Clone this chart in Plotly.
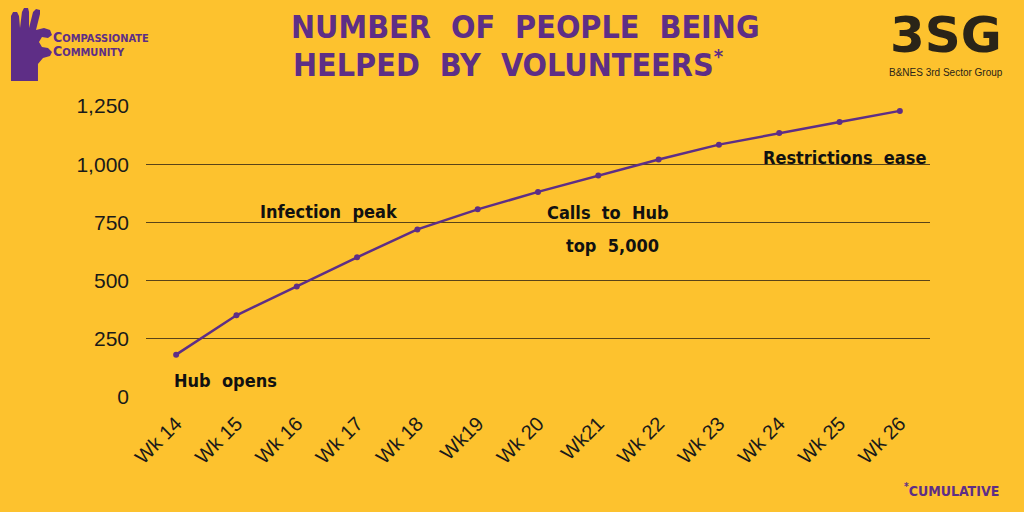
import plotly.graph_objects as go

weeks = ["Wk 14", "Wk 15", "Wk 16", "Wk 17", "Wk 18", "Wk19", "Wk 20",
         "Wk21", "Wk 22", "Wk 23", "Wk 24", "Wk 25", "Wk 26"]
people = [182, 351, 475, 600, 720, 806, 881, 951, 1020, 1084, 1134, 1181, 1229]
y_ticks = [0, 250, 500, 750, 1000, 1250]
y_tick_labels = ["0", "250", "500", "750", "1,000", "1,250"]

notes = [
    ("Hub opens", 0.81, 70),
    ("Infection peak", 2.54, 797),
    ("Calls to Hub", 7.16, 793),
    ("top 5,000", 7.24, 652),
    ("Restrictions ease", 11.09, 1030),
]

BG = "#FDC22E"
PURPLE = "#5E2E86"
W, H = 1024, 512
L, R, T, B = 146, 94, 106, 115
PW, PH = W - L - R, H - T - B


def px(x):
    return (x - L) / PW


def py(y):
    return (H - B - y) / PH


fig = go.Figure()
fig.add_trace(go.Scatter(
    x=weeks, y=people, mode="lines+markers",
    line=dict(color=PURPLE, width=2.5),
    marker=dict(color=PURPLE, size=6),
    hoverinfo="x+y", showlegend=False,
))

NOTE_FONT = "DejaVu Sans Condensed, sans-serif"
for text, xi, yv in notes:
    fig.add_annotation(
        x=xi, y=yv, xref="x", yref="y",
        text="<b>" + text.replace(" ", "&nbsp;&nbsp;") + "</b>",
        showarrow=False, font=dict(family=NOTE_FONT, size=18, color="#111111"),
    )

# Title (two lines, left aligned)
TITLE_FONT = "DejaVu Sans Condensed, sans-serif"
fig.add_annotation(
    x=px(289), y=py(27), xref="paper", yref="paper", xanchor="left", yanchor="middle",
    text="<b>NUMBER&nbsp;&nbsp;OF&nbsp;&nbsp;PEOPLE&nbsp;&nbsp;BEING</b>",
    showarrow=False, font=dict(family=TITLE_FONT, size=32, color=PURPLE),
)
fig.add_annotation(
    x=px(291), y=py(64), xref="paper", yref="paper", xanchor="left", yanchor="middle",
    text="<b>HELPED&nbsp;&nbsp;BY&nbsp;&nbsp;VOLUNTEERS<sup><span style='font-size:20px'>*</span></sup></b>",
    showarrow=False, font=dict(family=TITLE_FONT, size=32, color=PURPLE),
)

# Left logo text
fig.add_annotation(
    x=px(51), y=py(44), xref="paper", yref="paper", xanchor="left", yanchor="middle",
    text="<b><span style='font-size:14px'>C</span>OMPASSIONATE<br>"
         "<span style='font-size:14px'>C</span>OMMUNITY</b>",
    showarrow=False, align="left",
    font=dict(family=NOTE_FONT, size=11, color=PURPLE),
)

# Hand shape (logo decoration), pixel outline converted to paper coords
hand = [(11, 81), (11, 16), (13, 12), (17, 12), (19, 16), (20, 28), (22, 12), (24, 8),
        (28, 8), (29, 12), (29, 28), (33, 12), (36, 9), (40, 10), (40, 14), (36, 30),
        (44, 28), (50, 30), (52, 35), (48, 38), (42, 37), (39, 42), (42, 47), (48, 48),
        (52, 52), (50, 56), (43, 58), (38, 64), (38, 81)]
path = "M " + " L ".join(f"{px(a):.4f},{py(b):.4f}" for a, b in hand) + " Z"
fig.add_shape(type="path", xref="paper", yref="paper", path=path,
              fillcolor=PURPLE, line=dict(width=0))

# Right logo
fig.add_annotation(
    x=px(946), y=py(35), xref="paper", yref="paper", xanchor="center", yanchor="middle",
    text="<b>3SG</b>", showarrow=False,
    font=dict(family="DejaVu Sans", size=50, color="#2a2418"),
)
fig.add_annotation(
    x=px(946), y=py(73), xref="paper", yref="paper", xanchor="center", yanchor="middle",
    text="B&amp;NES 3rd Sector Group", showarrow=False,
    font=dict(family="Liberation Sans", size=10, color="#2a2418"),
)

# Footnote
fig.add_annotation(
    x=px(1001), y=py(490), xref="paper", yref="paper", xanchor="right", yanchor="middle",
    text="<b><sup><span style='font-size:10px'>*</span></sup>CUMULATIVE</b>", showarrow=False,
    font=dict(family=NOTE_FONT, size=14, color=PURPLE),
)

fig.update_layout(
    width=W, height=H,
    paper_bgcolor=BG, plot_bgcolor=BG,
    margin=dict(l=L, r=R, t=T, b=B),
    xaxis=dict(type="category", range=[-0.5, 12.5], showgrid=False, showline=False,
               zeroline=False, tickangle=-45, ticks="", ticklabelstandoff=10,
               tickfont=dict(family="Liberation Sans", size=20, color="#1a1a1a")),
    yaxis=dict(range=[0, 1250], tickvals=y_ticks, ticktext=y_tick_labels,
               showgrid=True, gridcolor="rgba(60,45,20,0.85)", gridwidth=1,
               zeroline=False, showline=False, ticks="", ticklabelstandoff=16,
               tickfont=dict(family="Liberation Sans", size=21, color="#1a1a1a")),
)

fig.write_html("out.html")
